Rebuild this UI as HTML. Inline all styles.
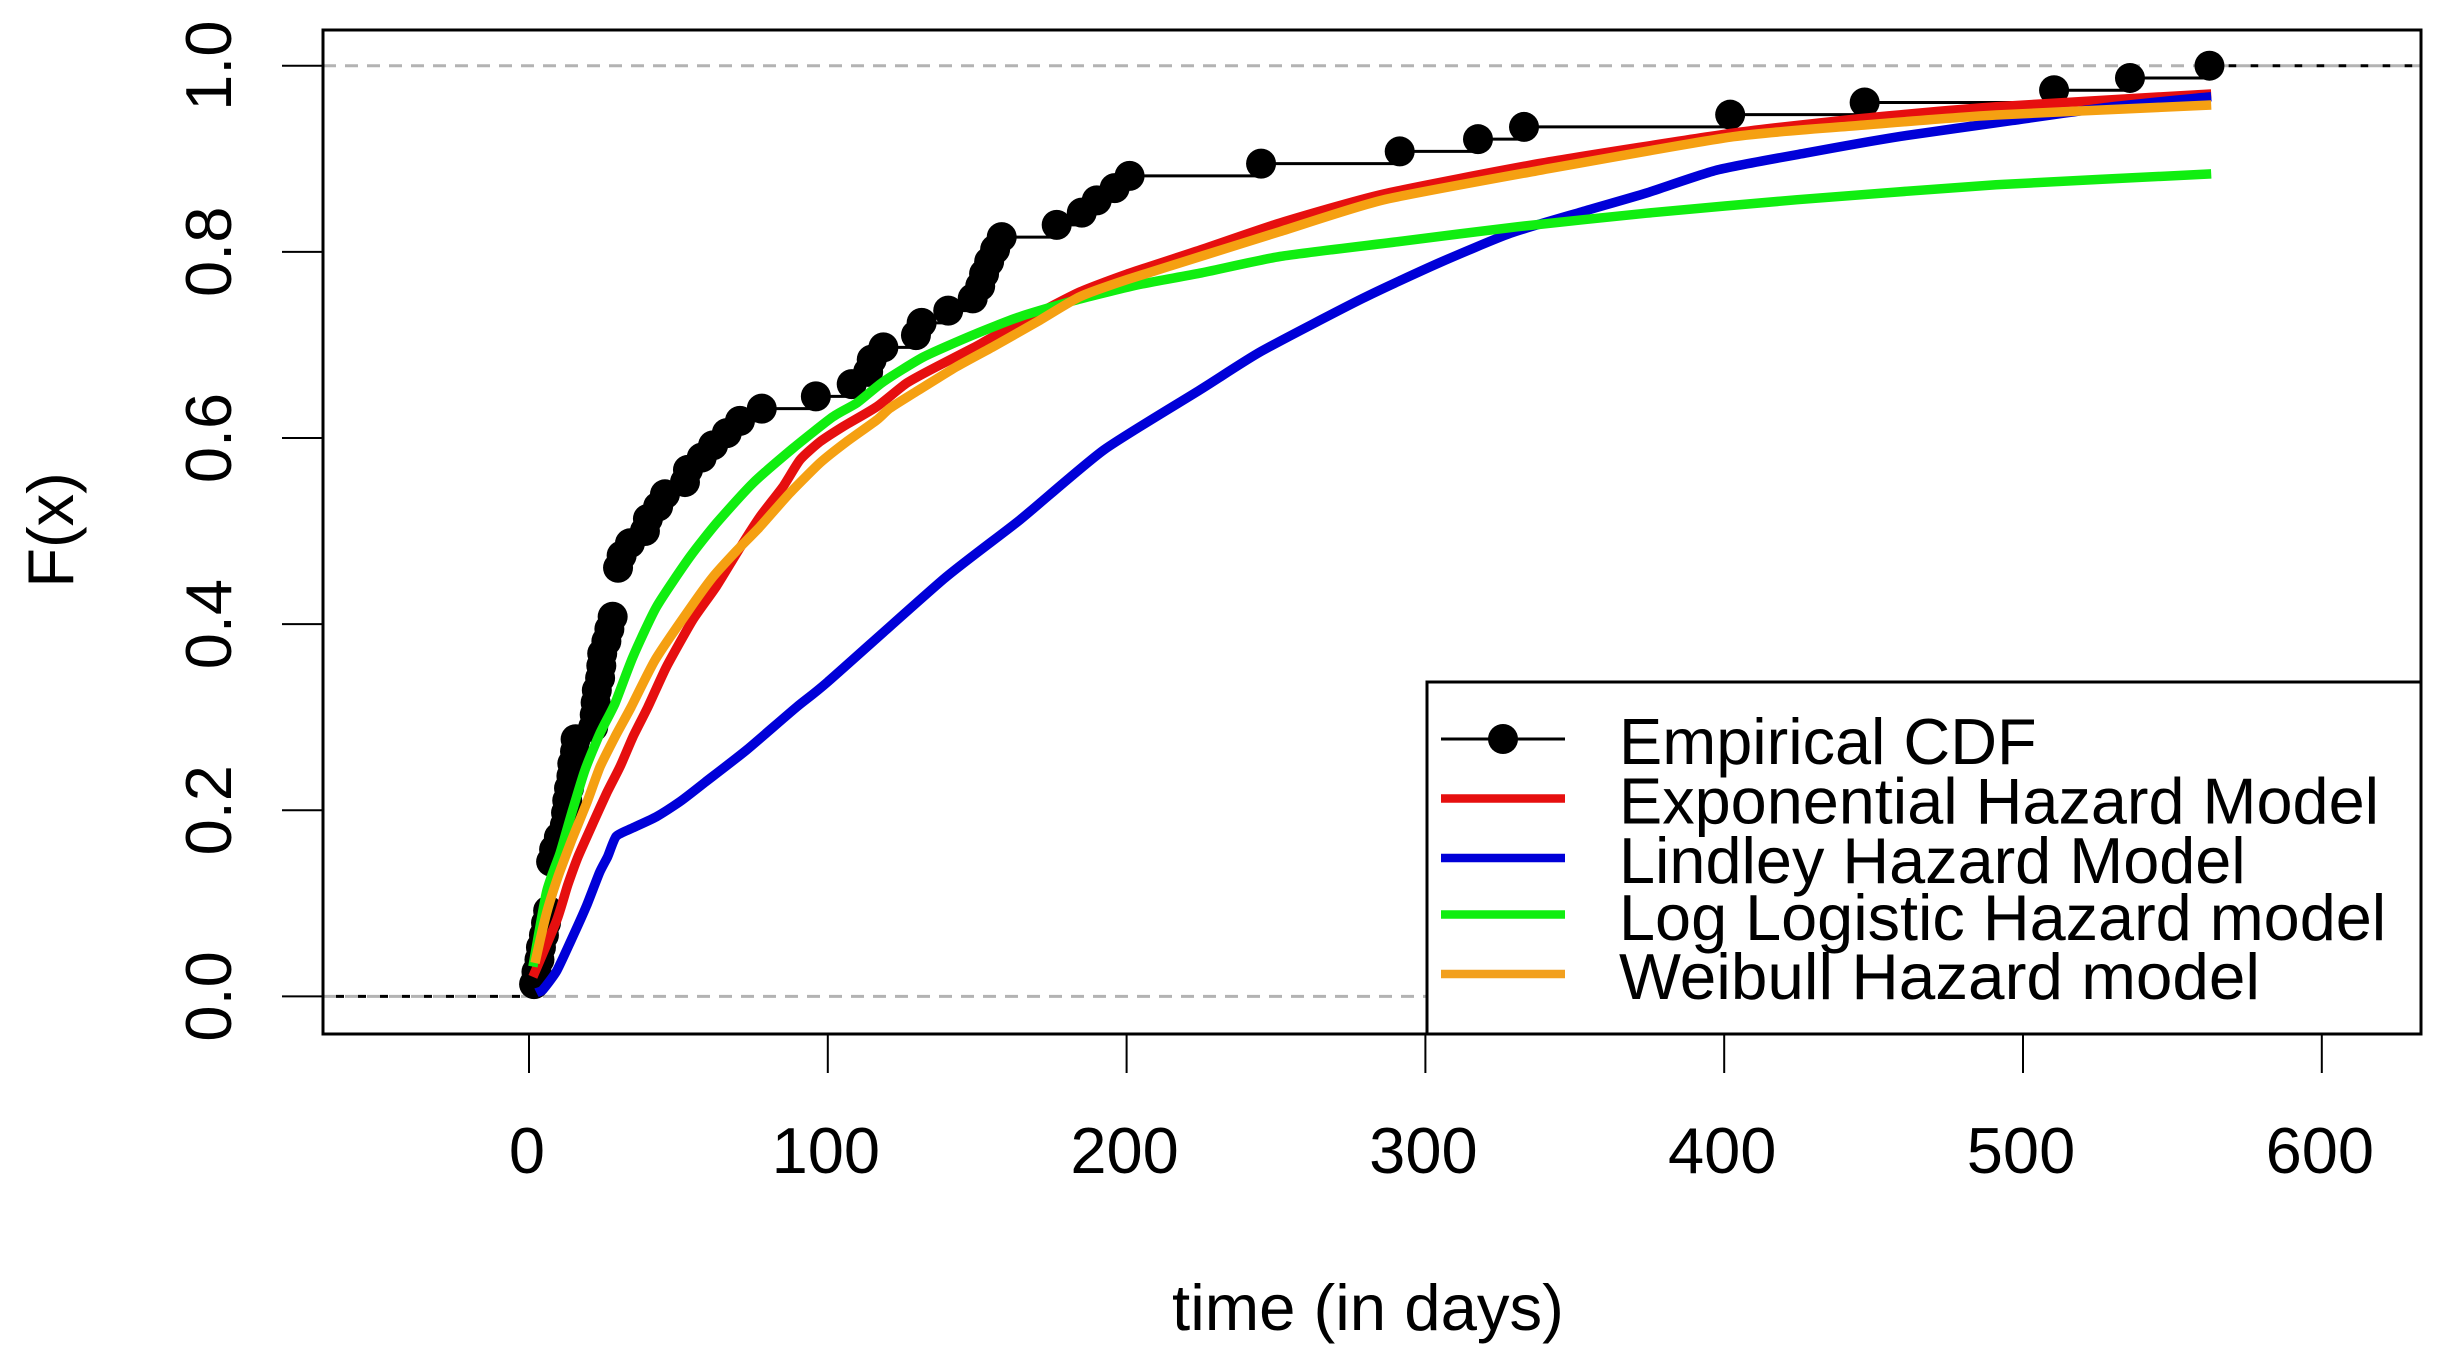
<!DOCTYPE html>
<html lang="en">
<head>
<meta charset="utf-8">
<title>Empirical CDF and hazard models</title>
<style>
html,body{margin:0;padding:0;background:#fff;}
svg{display:block;}
text{font-family:"Liberation Sans",Arial,sans-serif;fill:#000;}
</style>
</head>
<body>
<svg id="chart" xmlns="http://www.w3.org/2000/svg" width="2448" height="1366" viewBox="0 0 2448 1366">
<rect x="0" y="0" width="2448" height="1366" fill="#ffffff"/>
<g id="marks"></g>
<g id="axes"></g>
<text x="1368" y="1330" font-size="65.3" text-anchor="middle">time (in days)</text>
<text transform="translate(73,530) rotate(-90)" font-size="65" text-anchor="middle">F(x)</text>
<g>
<rect x="1427" y="682" width="994" height="352" fill="#ffffff" stroke="#000" stroke-width="3"/>
<g>
<line x1="1441" x2="1565" y1="739" y2="739" stroke="#000" stroke-width="3"/>
<circle cx="1503" cy="739" r="15" fill="#000"/>
<text x="1619" y="764" font-size="64.8">Empirical CDF</text>
</g>
<g>
<line x1="1441" x2="1565" y1="798.5" y2="798.5" stroke="#e60f0f" stroke-width="8.5"/>
<text x="1619" y="823.5" font-size="64.8">Exponential Hazard Model</text>
</g>
<g>
<line x1="1441" x2="1565" y1="858" y2="858" stroke="#0000d8" stroke-width="8.5"/>
<text x="1619" y="883" font-size="64.8">Lindley Hazard Model</text>
</g>
<g>
<line x1="1441" x2="1565" y1="914.5" y2="914.5" stroke="#10ee10" stroke-width="8.5"/>
<text x="1619" y="940" font-size="64.8">Log Logistic Hazard model</text>
</g>
<g>
<line x1="1441" x2="1565" y1="974" y2="974" stroke="#f2a01e" stroke-width="8.5"/>
<text x="1619" y="999" textLength="641" lengthAdjust="spacingAndGlyphs" font-size="64.8">Weibull Hazard model</text>
</g>
</g>
</svg>
<script>
const xTickValues = [0, 100, 200, 300, 400, 500, 600];
const yTickValues = [0, 0.2, 0.4, 0.6, 0.8, 1];
const yTickLabels = ["0.0", "0.2", "0.4", "0.6", "0.8", "1.0"];

const empiricalTimes = [1.7,2.5,3.5,4,5,5.7,6.4,7.4,8.4,10,12,12.4,12.8,13.4,14.2,14.5,15.4,15.6,21.5,22,22.3,22.7,23.8,24.2,24.5,25.9,26.9,28,29.8,31,33.8,38.8,39.8,43.2,45.5,52.2,53.2,57.8,61.6,66.2,70.6,77.9,96,108,113.5,114.7,118.6,129.5,131.4,140.3,148.5,151,152.3,154,156,158.2,176.6,185,190,196,201,245,291.4,317.6,333,402,447,510.4,535.8,562.4];
const empiricalRanks = [1,2,3,4,5,6,7,11,12,13,14,15,16,17,18,19,20,21,22,23,24,25,26,27,28,29,30,31,35,36,37,38,39,40,41,42,43,44,45,46,47,48,49,50,51,52,53,54,55,56,57,58,59,60,61,62,63,64,65,66,67,68,69,70,71,72,73,74,75,76];
const sampleSize = 76;

const exponentialTimes = [1.3,9.3,13,16.4,21.4,26,30.5,34.8,39.8,46,54.9,62.8,70.6,77.3,85,90.7,97.4,105,116.4,126.4,136.4,148.6,155,171,184.4,200,224.6,251.3,285.8,339,403,447,491,563];
const exponentialValues = [0.021,0.082,0.12,0.15,0.186,0.2185,0.247,0.279,0.311,0.354,0.405,0.441,0.482,0.5154,0.5477,0.5764,0.596,0.612,0.6336,0.659,0.6766,0.6967,0.708,0.735,0.757,0.776,0.802,0.831,0.862,0.8954,0.9276,0.9436,0.956,0.9696];

const lindleyTimes = [2.5,4.6,9.2,14.2,19.2,23.6,26.3,29.2,34.7,42.6,50.4,58.9,72.9,89.6,100,139,164.3,192.3,224.5,245,279,304.5,328.5,352.4,373.8,397.8,427,458.9,496.3,530,563];
const lindleyValues = [0.004,0.007,0.027,0.061,0.097,0.133,0.15,0.172,0.181,0.193,0.209,0.23,0.265,0.311,0.338,0.449,0.512,0.587,0.6515,0.693,0.75,0.788,0.82,0.843,0.863,0.888,0.906,0.924,0.941,0.956,0.9667];

const logLogisticTimes = [1.3,5.9,10.4,14.3,18.7,23.8,28.8,34.8,42.7,53.9,62.8,75,88.4,101.7,109.7,118.6,132,148.6,164.3,184,204.5,224.5,251.3,291,331,374,424.5,491,563];
const logLogisticValues = [0.032,0.1125,0.154,0.197,0.243,0.283,0.315,0.365,0.4187,0.4725,0.5086,0.5516,0.589,0.6228,0.6376,0.6605,0.687,0.7107,0.7303,0.749,0.765,0.777,0.795,0.811,0.827,0.8415,0.856,0.872,0.8837];

const weibullTimes = [2,5.9,9.7,14.3,19.3,23.8,28.8,34.1,42.2,52.8,61.6,69.5,77.3,87.3,97.4,106.3,116.4,120.8,129.7,143.1,155.3,171,184.4,200,224.5,251.3,285.8,339,403,447,491,563];
const weibullValues = [0.0359,0.0896,0.1286,0.168,0.2078,0.2468,0.279,0.3104,0.3615,0.412,0.451,0.479,0.5047,0.5409,0.5732,0.596,0.6193,0.632,0.65,0.6766,0.698,0.7266,0.7518,0.77,0.7948,0.8217,0.8557,0.888,0.9237,0.9363,0.947,0.9578];

const NS = "http://www.w3.org/2000/svg";
const frameLeft = 323, frameRight = 2421, frameTop = 30, frameBottom = 1034;
function xScale(t) { return 529 + 2.988 * t; }
function yScale(f) { return 996.4 - 930.7 * f; }
function make(tag, attrs, parent) {
  const el = document.createElementNS(NS, tag);
  for (const k in attrs) el.setAttribute(k, attrs[k]);
  parent.appendChild(el);
  return el;
}
const marks = document.getElementById("marks");
const axes = document.getElementById("axes");

[0, 1].forEach(function (level) {
  const ref = make("line", {x1: frameLeft, x2: frameRight, y1: yScale(level), y2: yScale(level), stroke: "#b3b3b3", "stroke-width": 3, "stroke-dasharray": "13 9"}, marks);
  
  
});

const leftTail = make("line", {x1: frameLeft + 13, x2: xScale(empiricalTimes[0]), y1: yScale(0), y2: yScale(0), stroke: "#000", "stroke-width": 3, "stroke-dasharray": "8 14"}, marks);


const rightTail = make("line", {x1: xScale(empiricalTimes[empiricalTimes.length - 1]) + 19, x2: frameRight, y1: yScale(1), y2: yScale(1), stroke: "#000", "stroke-width": 3, "stroke-dasharray": "8 14"}, marks);



empiricalTimes.forEach(function (t, i) {
  const level = empiricalRanks[i] / sampleSize;
  if (i < empiricalTimes.length - 1) {
    const step = make("line", {x1: xScale(t), x2: xScale(empiricalTimes[i + 1]), y1: yScale(level), y2: yScale(level), stroke: "#000", "stroke-width": 3}, marks);
    
    
  }
  const dot = make("circle", {cx: xScale(t), cy: yScale(level), r: 15, fill: "#000"}, marks);
  
  
});

function smoothPath(times, values) {
  const p = times.map(function (t, i) { return [xScale(t), yScale(values[i])]; });
  let d = "M" + p[0][0].toFixed(1) + " " + p[0][1].toFixed(1);
  for (let i = 0; i < p.length - 1; i++) {
    const a = p[Math.max(i - 1, 0)], b = p[i], c = p[i + 1], e = p[Math.min(i + 2, p.length - 1)];
    const k = 0.1;
    d += " C" + (b[0] + (c[0] - a[0]) * k).toFixed(1) + " " + (b[1] + (c[1] - a[1]) * k).toFixed(1) + " " +
      (c[0] - (e[0] - b[0]) * k).toFixed(1) + " " + (c[1] - (e[1] - b[1]) * k).toFixed(1) + " " +
      c[0].toFixed(1) + " " + c[1].toFixed(1);
  }
  return d;
}
function drawCurve(times, values, color) {
  return make("path", {d: smoothPath(times, values), fill: "none", stroke: color, "stroke-width": 9.5, "stroke-linejoin": "round", "stroke-linecap": "butt"}, marks);
}
const exponentialCurve = drawCurve(exponentialTimes, exponentialValues, "#e60f0f");


const lindleyCurve = drawCurve(lindleyTimes, lindleyValues, "#0000d8");


const logLogisticCurve = drawCurve(logLogisticTimes, logLogisticValues, "#10ee10");


const weibullCurve = drawCurve(weibullTimes, weibullValues, "#f5a012");



const frame = make("rect", {x: frameLeft, y: frameTop, width: frameRight - frameLeft, height: frameBottom - frameTop, fill: "none", stroke: "#000", "stroke-width": 3}, axes);



xTickValues.forEach(function (v) {
  const tick = make("line", {x1: xScale(v), x2: xScale(v), y1: frameBottom, y2: 1073, stroke: "#000", "stroke-width": 2}, axes);
  
  
  const label = make("text", {x: xScale(v) - 2, y: 1173, "font-size": 65, "text-anchor": "middle"}, axes);
  label.textContent = String(v);
  
  
});
yTickValues.forEach(function (v, i) {
  const tick = make("line", {x1: 282, x2: frameLeft, y1: yScale(v), y2: yScale(v), stroke: "#000", "stroke-width": 2}, axes);
  
  
  const label = make("text", {transform: "translate(231," + yScale(v) + ") rotate(-90)", "font-size": 65, "text-anchor": "middle"}, axes);
  label.textContent = yTickLabels[i];
  
  
});
</script>
</body>
</html>
